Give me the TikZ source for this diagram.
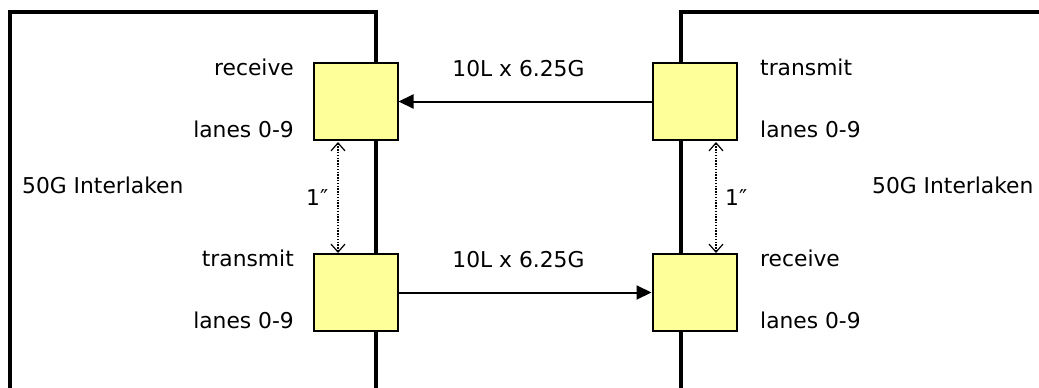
\documentclass[tikz,border=0pt]{standalone}
\usepackage{fontspec}
\setmainfont{DejaVu Sans}
\usetikzlibrary{arrows.meta}
\definecolor{boxyellow}{HTML}{FFFF99}
\tikzset{
  chip/.style={draw=black, line width=2pt, fill=boxyellow, minimum width=84pt, minimum height=77pt, inner sep=0pt},
  board/.style={line width=4pt, line join=miter},
  lbl/.style={font=\fontsize{21.8pt}{24pt}\selectfont, inner sep=0pt},
  link/.style={line width=2pt, -{Triangle[length=15pt,width=14pt]}},
  gap/.style={line width=1.2pt, dash pattern=on 1.4pt off 1.4pt, {Straight Barb[length=8pt,width=14pt,line width=1.2pt]}-{Straight Barb[length=8pt,width=14pt,line width=1.2pt]}}
}
\begin{document}
\begin{tikzpicture}[x=1pt,y=-1pt]
\useasboundingbox (0,0) rectangle (1039,388);
\clip (0,0) rectangle (1039,388);
% boards
\draw[board] (10,400) -- (10,12) -- (376,12) -- (376,400);
\draw[board] (681,400) -- (681,12) -- (1050,12);
% chips
\node[chip] (lrx) at (355.5,101.5) {};
\node[chip] (ltx) at (355.5,292.5) {};
\node[chip] (rtx) at (694.5,101.5) {};
\node[chip] (rrx) at (694.5,292.5) {};
% links
\draw[link] (rtx.west) -- (lrx.east);
\draw[link] (ltx.east) -- (rrx.west);
\node[lbl, anchor=base] (t1) at (518.5,76) {10L x 6.25G};
\node[lbl, anchor=base] (t2) at (518.5,267) {10L x 6.25G};
% dotted spacing
\coordinate (la) at (338,142);
\coordinate (lb) at (338,253);
\coordinate (ra) at (716,142);
\coordinate (rb) at (716,253);
\draw[gap] (la) -- (lb);
\draw[gap] (ra) -- (rb);
\node[lbl, anchor=base west] (d1) at (306,205) {1″};
\node[lbl, anchor=base west] (d2) at (725,205) {1″};
% left labels
\node[lbl, anchor=base east] (a1) at (294,75) {receive};
\node[lbl, anchor=base east] (a2) at (294,137) {lanes 0-9};
\node[lbl, anchor=base east] (a3) at (294,266) {transmit};
\node[lbl, anchor=base east] (a4) at (294,328) {lanes 0-9};
\node[lbl, anchor=base west] (a5) at (22,193) {50G Interlaken};
% right labels
\node[lbl, anchor=base west] (b1) at (760,75) {transmit};
\node[lbl, anchor=base west] (b2) at (760,137) {lanes 0-9};
\node[lbl, anchor=base west] (b3) at (760,266) {receive};
\node[lbl, anchor=base west] (b4) at (760,328) {lanes 0-9};
\node[lbl, anchor=base west] (b5) at (872,193) {50G Interlaken};
\end{tikzpicture}
\end{document}
